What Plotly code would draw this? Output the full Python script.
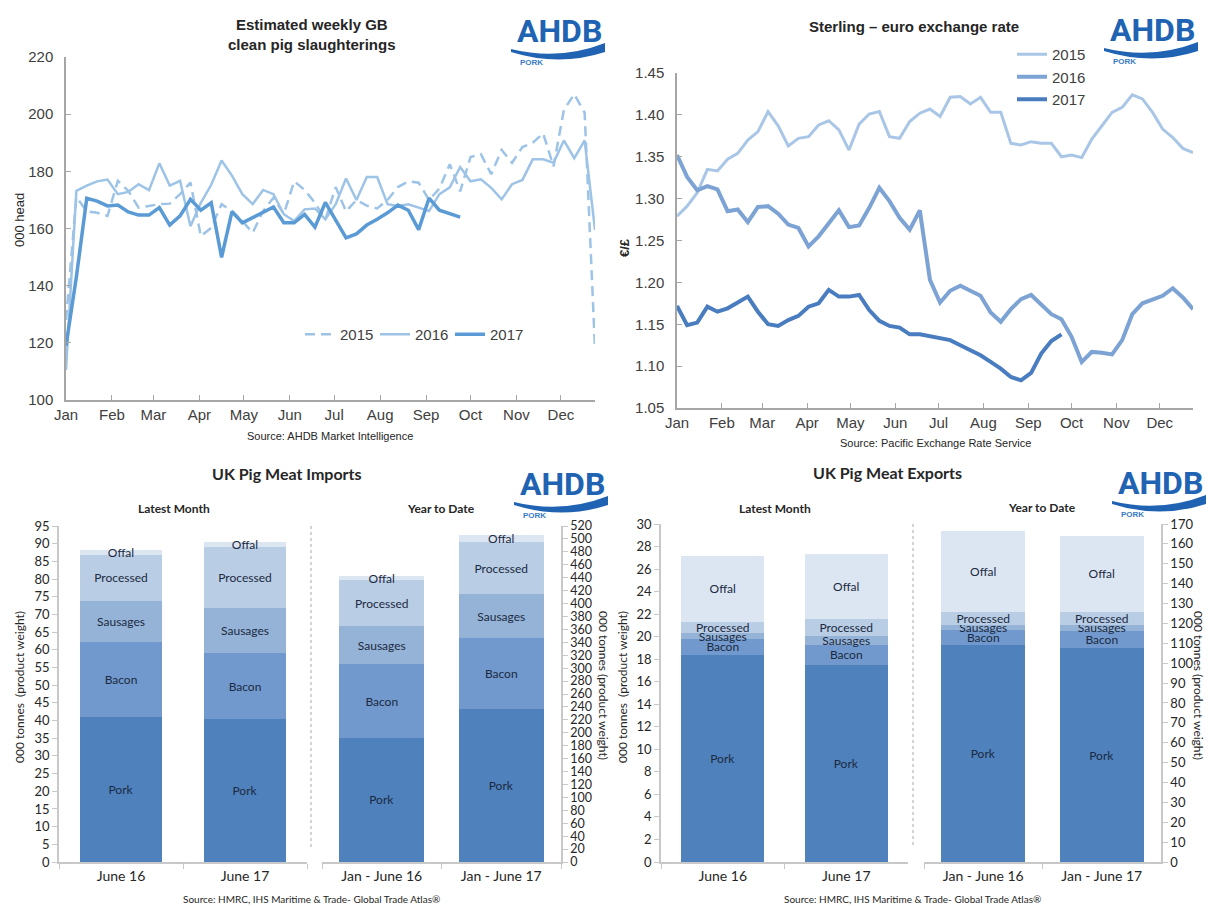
import plotly.graph_objects as go

W, H = 1208, 906


def px(x):
    return x / W


def py(y):
    return 1 - y / H


# ---------------- DATA ----------------
months = ["Jan", "Feb", "Mar", "Apr", "May", "Jun", "Jul", "Aug", "Sep", "Oct", "Nov", "Dec"]
month_start_day = [0, 31, 59, 90, 120, 151, 181, 212, 243, 273, 304, 334]

slaughter_2015 = [128, 171, 166, 165.5, 164.4, 176.7, 173.2, 167.3, 167.9, 168.5, 168.7, 172, 176.1,
                  157.3, 160.2, 168.5, 166.1, 162.6, 158.5, 166.1, 170.8, 165, 176.5, 173.5, 169, 163,
                  174.5, 166, 170, 168, 167, 170, 174.5, 176.5, 176, 170, 174, 182.5, 173, 185, 186,
                  179, 187.5, 183, 188.5, 190, 193.3, 181.7, 201.5, 207, 200.5, 118]
slaughter_2016 = [110.5, 173.2, 175, 176.5, 177.1, 172, 172.8, 175.5, 173.4, 182.8, 175, 176.7, 160.8,
                  169, 175.3, 183.8, 178.5, 172, 168.5, 173.5, 172, 165, 162.6, 166.7, 167, 163.2,
                  168.5, 177.5, 170, 178, 178, 168.5, 167.9, 168.5, 167.3, 166.1, 172, 174.4, 181.5,
                  176.5, 177.2, 174.2, 170.2, 175.5, 177, 184.2, 184.2, 183, 190.8, 184.6, 190.8, 159.5]
slaughter_2017 = [119, 143, 170.6, 169.6, 167.9, 168.2, 165.8, 164.7, 164.7, 167.3, 161.2, 164.4, 170.2,
                  166.4, 169, 149.9, 165.9, 162, 163.8, 165.5, 167.5, 162, 162, 164.9, 160.5, 169.1,
                  162.6, 156.7, 158.1, 161.2, 163.2, 165.5, 168.2, 166.4, 159.6, 170.6, 166.4, 165.3, 164]

fx_2015 = [1.279, 1.291, 1.307, 1.335, 1.333, 1.347, 1.354, 1.370, 1.380, 1.404, 1.387, 1.363, 1.372,
           1.374, 1.388, 1.393, 1.382, 1.358, 1.389, 1.401, 1.404, 1.374, 1.372, 1.392, 1.402, 1.407,
           1.398, 1.421, 1.422, 1.413, 1.421, 1.403, 1.403, 1.366, 1.364, 1.368, 1.366, 1.366, 1.350,
           1.352, 1.349, 1.371, 1.387, 1.403, 1.409, 1.424, 1.419, 1.403, 1.383, 1.373, 1.360, 1.355]
fx_2016 = [1.352, 1.326, 1.310, 1.315, 1.311, 1.285, 1.287, 1.272, 1.290, 1.291, 1.282, 1.269, 1.265,
           1.243, 1.255, 1.271, 1.286, 1.266, 1.268, 1.289, 1.313, 1.297, 1.277, 1.263, 1.286, 1.203,
           1.176, 1.190, 1.196, 1.190, 1.184, 1.164, 1.153, 1.168, 1.180, 1.185, 1.174, 1.162, 1.156,
           1.135, 1.105, 1.117, 1.116, 1.114, 1.131, 1.162, 1.175, 1.180, 1.184, 1.193, 1.182, 1.168]
fx_2017 = [1.172, 1.149, 1.152, 1.171, 1.165, 1.169, 1.176, 1.183, 1.165, 1.150, 1.148, 1.155, 1.160,
           1.171, 1.175, 1.191, 1.183, 1.183, 1.185, 1.167, 1.154, 1.148, 1.146, 1.138, 1.138, 1.136,
           1.134, 1.131, 1.125, 1.119, 1.113, 1.105, 1.097, 1.087, 1.083, 1.092, 1.115, 1.130, 1.138]

segments = ["Pork", "Bacon", "Sausages", "Processed", "Offal"]
month_cats = ["June 16", "June 17"]
ytd_cats = ["Jan - June 16", "Jan - June 17"]

imports_month = {"Pork": [40.9, 40.3], "Bacon": [21.3, 18.9], "Sausages": [11.6, 12.7],
                 "Processed": [13.0, 17.3], "Offal": [1.5, 1.4]}
imports_ytd = {"Pork": [192, 237], "Bacon": [114, 110], "Sausages": [59.6, 67],
               "Processed": [70.4, 81], "Offal": [6, 10.6]}
exports_month = {"Pork": [18.4, 17.5], "Bacon": [1.4, 1.8], "Sausages": [0.5, 0.8],
                 "Processed": [1.0, 1.5], "Offal": [5.9, 5.7]}
exports_ytd = {"Pork": [109.3, 107.6], "Bacon": [7.2, 8.4], "Sausages": [2.9, 3.4],
               "Processed": [6.4, 6.4], "Offal": [40.7, 38.2]}

# ---------------- STYLE ----------------
seg_colors = {"Pork": "#4F81BD", "Bacon": "#7199CD", "Sausages": "#95B3D7",
              "Processed": "#B9CDE5", "Offal": "#DCE6F2"}
TOP_FONT = "Liberation Sans"
BOT_FONT = "Lato"
TXT = "#262626"
AX = "#A6A6A6"
AXB = "#C8C8C8"
LOGO_BLUE = "#2163B3"

week_ticks = [d / 7 for d in month_start_day]

fig = go.Figure()

# ---- top-left: slaughterings ----
sl_styles = [("2015", slaughter_2015, dict(color="#9DC3E6", width=2.5, dash="10px,6px")),
             ("2016", slaughter_2016, dict(color="#9DC3E6", width=2.5)),
             ("2017", slaughter_2017, dict(color="#5B9BD5", width=3.5))]
for name, vals, ln in sl_styles:
    fig.add_trace(go.Scatter(x=list(range(len(vals))), y=vals, mode="lines", name=name,
                             line=ln, xaxis="x", yaxis="y", legend="legend"))

# ---- top-right: exchange rate ----
fx_styles = [("2015", fx_2015, dict(color="#A9C6E6", width=3)),
             ("2016", fx_2016, dict(color="#7DA3D4", width=4)),
             ("2017", fx_2017, dict(color="#4A7CC0", width=4))]
for name, vals, ln in fx_styles:
    fig.add_trace(go.Scatter(x=list(range(len(vals))), y=vals, mode="lines", name=name,
                             line=ln, xaxis="x2", yaxis="y2", legend="legend2"))


# ---- bars ----
def add_bars(cats, data, xa, ya, width):
    for seg in segments:
        fig.add_trace(go.Bar(x=cats, y=data[seg], name=seg, marker=dict(color=seg_colors[seg], line=dict(width=0)),
                             width=width, text=[seg] * len(cats), textposition="inside",
                             insidetextanchor="middle", constraintext="none", textangle=0,
                             textfont=dict(family=BOT_FONT, size=12, color="#1B2A41"),
                             xaxis=xa, yaxis=ya, showlegend=False, cliponaxis=False))


add_bars(month_cats, imports_month, "x3", "y3", 0.66)
add_bars(ytd_cats, imports_ytd, "x4", "y4", 0.71)
add_bars(month_cats, exports_month, "x5", "y5", 0.67)
add_bars(ytd_cats, exports_ytd, "x6", "y6", 0.71)

# ---------------- AXES ----------------
line_x = dict(showline=True, linecolor=AX, linewidth=1.5, ticks="inside", ticklen=5, tickcolor=AX,
              showgrid=False, zeroline=False, tickvals=week_ticks, ticktext=months, range=[0, 51],
              tickfont=dict(family=TOP_FONT, size=15, color="#404040"), automargin=False)
line_y = dict(showline=True, linecolor=AX, linewidth=1.5, ticks="inside", ticklen=5, tickcolor=AX,
              showgrid=False, zeroline=False, tickfont=dict(family=TOP_FONT, size=15, color="#404040"),
              ticklabelstandoff=8, automargin=False)

bar_x = dict(type="category", showline=True, linecolor=AXB, linewidth=1.5, ticks="outside",
             tickson="boundaries", ticklen=5, tickcolor=AXB, showgrid=False, zeroline=False,
             range=[-0.5, 1.5], tickfont=dict(family=BOT_FONT, size=14, color=TXT), automargin=False)
bar_y = dict(showline=True, linecolor=AXB, linewidth=1.5, ticks="outside", ticklen=5, tickcolor=AXB,
             showgrid=False, zeroline=False, tickfont=dict(family=BOT_FONT, size=13, color=TXT),
             automargin=False)

fig.update_layout(
    xaxis=dict(line_x, domain=[px(66), px(595)], anchor="y"),
    yaxis=dict(line_y, domain=[py(400), py(57)], range=[100, 220], dtick=20, anchor="x"),
    xaxis2=dict(line_x, domain=[px(677), px(1193)], anchor="y2"),
    yaxis2=dict(line_y, domain=[py(408), py(73)], range=[1.05, 1.45], dtick=0.05, tickformat=".2f",
                anchor="x2"),
    xaxis3=dict(bar_x, domain=[px(59), px(307)], anchor="y3"),
    yaxis3=dict(bar_y, domain=[py(862), py(526)], range=[0, 95], dtick=5, anchor="x3"),
    xaxis4=dict(bar_x, domain=[px(322), px(561)], anchor="y4"),
    yaxis4=dict(bar_y, domain=[py(862), py(526)], range=[0, 520], dtick=20, side="right", anchor="x4",
                tickfont=dict(family=BOT_FONT, size=12.5, color=TXT)),
    xaxis5=dict(bar_x, domain=[px(661), px(908)], anchor="y5"),
    yaxis5=dict(bar_y, domain=[py(862), py(524)], range=[0, 30], dtick=2, anchor="x5"),
    xaxis6=dict(bar_x, domain=[px(924), px(1161)], anchor="y6"),
    yaxis6=dict(bar_y, domain=[py(862), py(524)], range=[0, 170], dtick=10, side="right", anchor="x6"),
    barmode="stack",
    width=W, height=H, autosize=False,
    margin=dict(l=0, r=0, t=0, b=0, pad=0, autoexpand=False),
    paper_bgcolor="white", plot_bgcolor="white",
    legend=dict(orientation="h", x=px(300), y=py(318), xanchor="left", yanchor="top",
                font=dict(family=TOP_FONT, size=15, color="#404040"), entrywidth=30,
                entrywidthmode="pixels", itemwidth=30, bgcolor="rgba(0,0,0,0)", traceorder="normal"),
    legend2=dict(orientation="v", x=px(1012), y=py(38), xanchor="left", yanchor="top",
                 font=dict(family=TOP_FONT, size=15, color="#404040"), itemwidth=30,
                 tracegroupgap=0, bgcolor="rgba(0,0,0,0)", traceorder="normal"),
)

# ---------------- ANNOTATIONS ----------------
ann = []


def text(x, y, s, size, family=TOP_FONT, bold=False, angle=0, color=TXT, xanchor="center"):
    ann.append(dict(x=px(x), y=py(y), xref="paper", yref="paper", text=f"<b>{s}</b>" if bold else s,
                    showarrow=False, textangle=angle, xanchor=xanchor, yanchor="middle",
                    font=dict(family=family, size=size, color=color)))


text(312, 35, "Estimated weekly GB<br>clean pig slaughterings", 15, bold=True)
text(330, 436, "Source: AHDB Market Intelligence", 11)
text(19, 220, "000 head", 13, angle=-90)

text(914, 26, "Sterling – euro exchange rate", 15, bold=True)
text(935, 443, "Source: Pacific Exchange Rate Service", 11)
text(624, 248, "€/£", 13, bold=True, angle=-90)

text(287, 473, "UK Pig Meat Imports", 16, family=BOT_FONT, bold=True)
text(174, 508, "Latest Month", 12, family=BOT_FONT, bold=True)
text(441, 508, "Year to Date", 12, family=BOT_FONT, bold=True)
text(19, 687, "000 tonnes  (product weight)", 12, family=BOT_FONT, angle=-90)
text(604, 685, "000 tonnes (product weight)", 12, family=BOT_FONT, angle=90)
text(311, 899, "Source: HMRC, IHS Maritime &amp; Trade- Global Trade Atlas®", 10, family=BOT_FONT)

text(887, 472, "UK Pig Meat Exports", 16, family=BOT_FONT, bold=True)
text(775, 508, "Latest Month", 12, family=BOT_FONT, bold=True)
text(1042, 507, "Year to Date", 12, family=BOT_FONT, bold=True)
text(622, 687, "000 tonnes  (product weight)", 12, family=BOT_FONT, angle=-90)
text(1199, 685, "000 tonnes (product weight)", 12, family=BOT_FONT, angle=90)
text(912, 899, "Source: HMRC, IHS Maritime &amp; Trade- Global Trade Atlas®", 10, family=BOT_FONT)

shapes = []


def logo(x0, y0):
    ann.append(dict(x=px(x0 + 44), y=py(y0 + 14), xref="paper", yref="paper", text="<b>AHDB</b>",
                    showarrow=False, xanchor="center", yanchor="middle",
                    font=dict(family="Roboto", size=32, color=LOGO_BLUE)))
    path = (f"M {px(x0 - 4)},{py(y0 + 32)} Q {px(x0 + 44)},{py(y0 + 44)} {px(x0 + 90)},{py(y0 + 26)} "
            f"L {px(x0 + 90)},{py(y0 + 35)} Q {px(x0 + 44)},{py(y0 + 50)} {px(x0 - 4)},{py(y0 + 35)} Z")
    shapes.append(dict(type="path", xref="paper", yref="paper", path=path, fillcolor=LOGO_BLUE,
                       line=dict(width=0), layer="above"))
    ann.append(dict(x=px(x0 + 3), y=py(y0 + 45), xref="paper", yref="paper", text="<b>PORK</b>",
                    showarrow=False, xanchor="left", yanchor="middle",
                    font=dict(family=TOP_FONT, size=8, color="#3A7CC4")))


logo(515, 17)
logo(1108, 16)
logo(518, 470)
logo(1116, 469)

shapes.append(dict(type="line", xref="paper", yref="paper", x0=px(311), x1=px(311), y0=py(526), y1=py(848),
                   line=dict(color=AX, width=1, dash="dot")))
shapes.append(dict(type="line", xref="paper", yref="paper", x0=px(913), x1=px(913), y0=py(524), y1=py(845),
                   line=dict(color=AX, width=1, dash="dot")))

fig.update_layout(annotations=ann, shapes=shapes)

fig.write_html("out.html")
